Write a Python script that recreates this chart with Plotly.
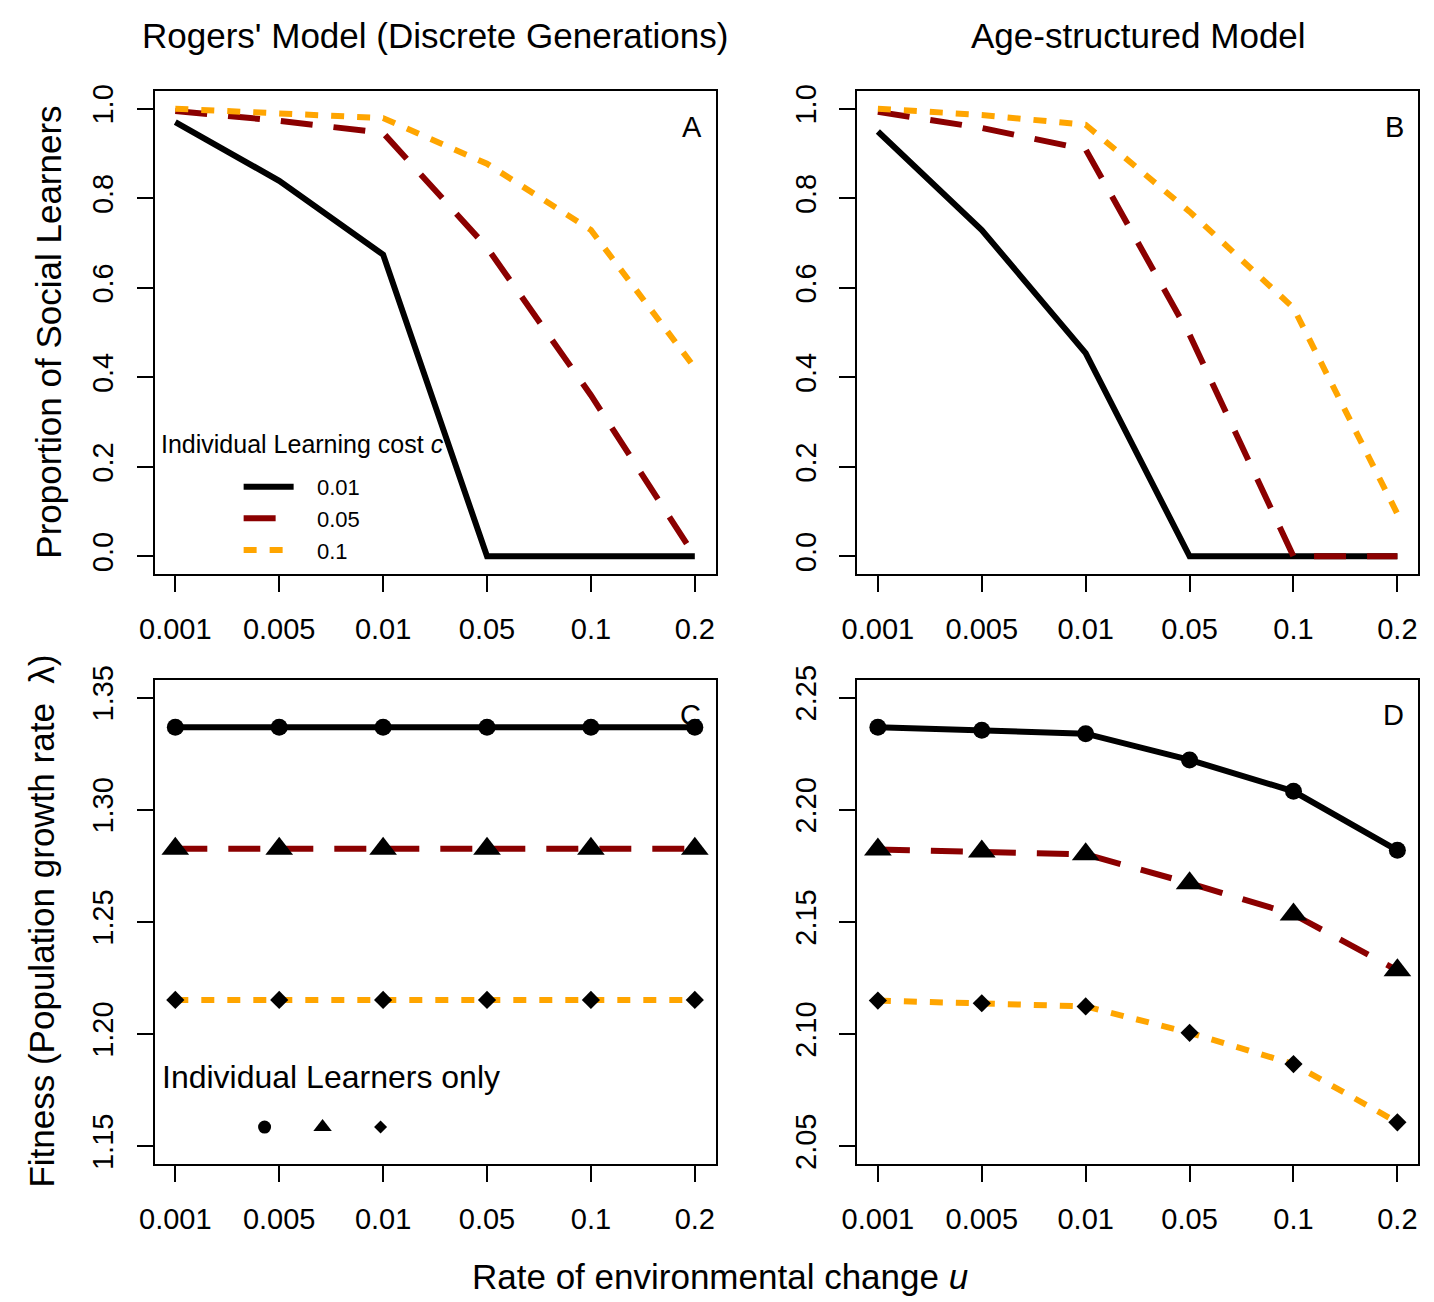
import plotly.graph_objects as go

# ---------------- data ----------------
u_labels = ["0.001", "0.005", "0.01", "0.05", "0.1", "0.2"]
u_index = [1, 2, 3, 4, 5, 6]
cost_labels = ["0.01", "0.05", "0.1"]

# Proportion of social learners, Rogers' model (panel A)
rogers_social_c001 = [0.970, 0.839, 0.674, 0.0, 0.0, 0.0]
rogers_social_c005 = [0.995, 0.973, 0.946, 0.690, 0.360, 0.0]
rogers_social_c01 = [1.000, 0.990, 0.979, 0.877, 0.729, 0.421]

# Proportion of social learners, age-structured model (panel B)
age_social_c001 = [0.949, 0.729, 0.454, 0.0, 0.0, 0.0]
age_social_c005 = [0.993, 0.957, 0.909, 0.495, 0.0, 0.0]
age_social_c01 = [1.000, 0.986, 0.964, 0.770, 0.555, 0.095]

# Fitness (population growth rate), Rogers' model (panel C)
rogers_fit_c001 = [1.3368, 1.3368, 1.3368, 1.3368, 1.3368, 1.3368]
rogers_fit_c005 = [1.2826, 1.2826, 1.2826, 1.2826, 1.2826, 1.2826]
rogers_fit_c01 = [1.2152, 1.2152, 1.2152, 1.2152, 1.2152, 1.2152]

# Fitness (population growth rate), age-structured model (panel D)
age_fit_c001 = [2.2368, 2.2354, 2.2339, 2.2222, 2.2082, 2.1819]
age_fit_c005 = [2.1823, 2.1814, 2.1801, 2.1672, 2.1533, 2.1284]
age_fit_c01 = [2.1149, 2.1137, 2.1123, 2.1005, 2.0866, 2.0606]

yticks_prop = [0.0, 0.2, 0.4, 0.6, 0.8, 1.0]
yticks_rogers_fit = [1.15, 1.20, 1.25, 1.30, 1.35]
yticks_age_fit = [2.05, 2.10, 2.15, 2.20, 2.25]

# ---------------- styles ----------------
W, H = 1434, 1302
FONT = "Liberation Sans, Arial, Helvetica, sans-serif"
colors = ["black", "#8B0000", "#FFA500"]
dashes = ["solid", "32px,21px", "13px,13px"]
symbols = ["circle", "triangle-up", "diamond"]
msizes = [17, 24, 14]
legend_msizes = [13, 16, 10]
LW = 6
NB = "\u00a0"


def px(x):
    return x / W


def py(y):
    return 1 - y / H


fig = go.Figure()

panels = [
    ("x", "y", [rogers_social_c001, rogers_social_c005, rogers_social_c01], False),
    ("x2", "y2", [age_social_c001, age_social_c005, age_social_c01], False),
    ("x3", "y3", [rogers_fit_c001, rogers_fit_c005, rogers_fit_c01], True),
    ("x4", "y4", [age_fit_c001, age_fit_c005, age_fit_c01], True),
]

for pi, (xa, ya, series, with_markers) in enumerate(panels):
    for si, vals in enumerate(series):
        fig.add_trace(go.Scatter(
            x=u_index, y=vals, xaxis=xa, yaxis=ya, mode="lines",
            line=dict(color=colors[si], width=LW, dash=dashes[si]),
            name=NB * 3 + cost_labels[si], showlegend=(pi == 0), legend="legend",
            hoverinfo="skip",
        ))
    if with_markers:
        for si, vals in enumerate(series):
            fig.add_trace(go.Scatter(
                x=u_index, y=vals, xaxis=xa, yaxis=ya, mode="markers",
                marker=dict(color="black", symbol=symbols[si], size=msizes[si],
                            line=dict(width=0)),
                name="Individual learners only", showlegend=False,
                hoverinfo="skip",
            ))

# legend keys for "Individual Learners only" (no plotted points)
for si in range(3):
    fig.add_trace(go.Scatter(
        x=[None], y=[None], xaxis="x3", yaxis="y3", mode="markers",
        marker=dict(color="black", symbol=symbols[si], size=legend_msizes[si],
                    line=dict(width=0)),
        name="", showlegend=True, legend="legend2", hoverinfo="skip",
    ))

dom_x = [[px(141), px(708)], [px(851), px(1418)]]
dom_y_top = [py(569), py(78)]
dom_y_bot = [py(1168), py(676)]

tickfont = dict(family=FONT, size=29, color="black")


def xaxis(dom, anchor):
    return dict(domain=dom, anchor=anchor, range=[0.8, 6.2],
                tickmode="array", tickvals=u_index, ticktext=u_labels,
                ticks="outside", ticklen=16, tickwidth=2, tickcolor="black",
                showline=True, mirror=True, linewidth=2, linecolor="black",
                showgrid=False, zeroline=False, tickfont=tickfont,
                ticklabelstandoff=12)


def yaxis(dom, anchor, rng, tv, fmt):
    return dict(domain=dom, anchor=anchor, range=rng,
                tickmode="array", tickvals=tv, ticktext=[fmt.format(v) for v in tv],
                tickangle=-90,
                ticks="outside", ticklen=16, tickwidth=2, tickcolor="black",
                showline=True, mirror=True, linewidth=2, linecolor="black",
                showgrid=False, zeroline=False, tickfont=tickfont,
                ticklabelstandoff=12)


fig.update_layout(
    width=W, height=H, margin=dict(l=0, r=0, t=0, b=0),
    paper_bgcolor="white", plot_bgcolor="white",
    font=dict(family=FONT, color="black"),
    xaxis=xaxis(dom_x[0], "y"),
    yaxis=yaxis(dom_y_top, "x", [-0.04, 1.04], yticks_prop, "{:.1f}"),
    xaxis2=xaxis(dom_x[1], "y2"),
    yaxis2=yaxis(dom_y_top, "x2", [-0.04, 1.04], yticks_prop, "{:.1f}"),
    xaxis3=xaxis(dom_x[0], "y3"),
    yaxis3=yaxis(dom_y_bot, "x3", [1.142, 1.358], yticks_rogers_fit, "{:.2f}"),
    xaxis4=xaxis(dom_x[1], "y4"),
    yaxis4=yaxis(dom_y_bot, "x4", [2.042, 2.258], yticks_age_fit, "{:.2f}"),
    legend=dict(x=px(226), y=py(459), xanchor="left", yanchor="top",
                bgcolor="rgba(0,0,0,0)", borderwidth=0, itemwidth=50,
                font=dict(family=FONT, size=22, color="black"),
                tracegroupgap=0),
    legend2=dict(x=px(232), y=py(1108), xanchor="left", yanchor="top",
                 orientation="h", bgcolor="rgba(0,0,0,0)", borderwidth=0,
                 entrywidth=13, entrywidthmode="pixels",
                 font=dict(family=FONT, size=24, color="black")),
    showlegend=True,
)

ann = []


def text(x, y, s, size, xanchor="center", angle=0):
    ann.append(dict(x=px(x), y=py(y), xref="paper", yref="paper", text=s,
                    showarrow=False, xanchor=xanchor, yanchor="middle",
                    textangle=angle,
                    font=dict(family=FONT, size=size, color="black")))


text(424.5, 22, "Rogers' Model (Discrete Generations)", 35)
text(1135, 22, "Age-structured Model", 35)
text(712, 1282, "Rate of environmental change <i>u</i>", 35)
text(33, 323, "Proportion of Social Learners", 35, angle=-90)
text(27, 921, "Fitness (Population growth rate" + NB * 2 + "\u03bb)", 35, angle=-90)
text(684, 115, "A", 29)
text(1394, 115, "B", 29)
text(683, 712, "C", 29)
text(1393, 712, "D", 29)
text(146, 437, "Individual Learning cost <i>c</i>", 25, xanchor="left")
text(147, 1080, "Individual Learners only", 32, xanchor="left")

fig.update_layout(annotations=ann)

fig.write_html("out.html")
